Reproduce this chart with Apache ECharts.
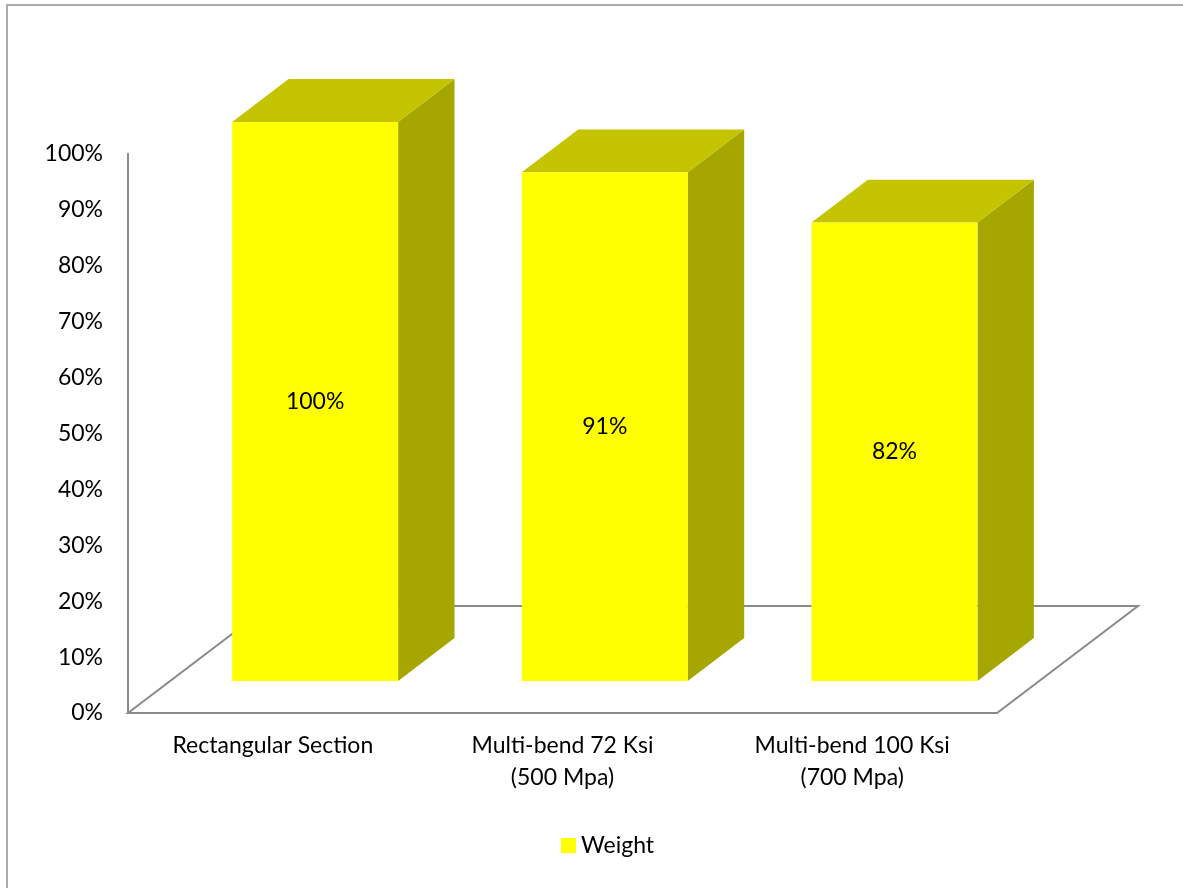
<!DOCTYPE html>
<html>
<head>
<meta charset="utf-8">
<title>Weight</title>
<script src="https://cdn.jsdelivr.net/npm/echarts@6/dist/echarts.min.js"></script>
<style>
  html, body { margin: 0; padding: 0; background: #fff; }
  #chart { width: 1183px; height: 888px; }
</style>
</head>
<body>
<div id="chart"></div>
<script>
// Chart data
const categories = ['Rectangular Section', 'Multi-bend 72 Ksi\n(500 Mpa)', 'Multi-bend 100 Ksi\n(700 Mpa)'];
const weightValues = [100, 91, 82];
const seriesName = 'Weight';

// Oblique 3D look: full floor depth vector in pixels, bar placement inside it
const DEPTH_X = 141;
const DEPTH_Y = -107;
const BAR_FRONT = 0.3;   // fraction of depth where the bar's front face sits
const BAR_DEPTH = 0.4;   // fraction of depth taken by the bar
const BAR_WIDTH = 0.573; // fraction of the category band
const FONT = 'Lato, "Open Sans", sans-serif';
const FONT_SIZE = 23;
const AXIS_GRAY = '#8a8a8a';

const chart = echarts.init(document.getElementById('chart'), null, { renderer: 'canvas' });

function renderFloor(params, api) {
  const cs = params.coordSys;
  const x0 = cs.x, x1 = cs.x + cs.width, y0 = cs.y + cs.height;
  return {
    type: 'polygon',
    shape: { points: [[x0, y0], [x1, y0], [x1 + DEPTH_X, y0 + DEPTH_Y], [x0 + DEPTH_X, y0 + DEPTH_Y]] },
    style: { fill: 'none', stroke: AXIS_GRAY, lineWidth: 2 },
    silent: true
  };
}

function renderBar(params, api) {
  const i = api.value(0);
  const v = api.value(1);
  const band = api.size([1, 0])[0];
  const base = api.coord([i, 0]);
  const top = api.coord([i, v]);
  const w = band * BAR_WIDTH;
  const fx = DEPTH_X * BAR_FRONT, fy = DEPTH_Y * BAR_FRONT;
  const bx = DEPTH_X * BAR_DEPTH, by = DEPTH_Y * BAR_DEPTH;
  const x0 = base[0] + fx - w / 2;
  const x1 = x0 + w;
  const yb = base[1] + fy;
  const yt = top[1] + fy;
  return {
    type: 'group',
    children: [
      {
        type: 'polygon',
        shape: { points: [[x1, yb], [x1, yt], [x1 + bx, yt + by], [x1 + bx, yb + by]] },
        style: { fill: '#a6a600' }
      },
      {
        type: 'polygon',
        shape: { points: [[x0, yt], [x1, yt], [x1 + bx, yt + by], [x0 + bx, yt + by]] },
        style: { fill: '#c4c400' }
      },
      {
        type: 'rect',
        shape: { x: x0, y: yt, width: w, height: yb - yt },
        style: { fill: '#ffff00' }
      },
      {
        type: 'text',
        x: x0 + w / 2,
        y: (yt + yb) / 2,
        style: {
          text: v + '%',
          fill: '#000',
          font: FONT_SIZE + 'px ' + FONT,
          align: 'center',
          verticalAlign: 'middle'
        }
      }
    ]
  };
}

chart.setOption({
  animation: false,
  backgroundColor: '#fff',
  graphic: [{
    type: 'rect',
    shape: { x: 7, y: 5, width: 1200, height: 900 },
    style: { fill: 'none', stroke: '#909090', lineWidth: 1.5 },
    silent: true
  }],
  grid: { left: 128, right: 186, top: 154, bottom: 175, containLabel: false },
  legend: {
    data: [seriesName],
    left: 556,
    top: 829,
    icon: 'rect',
    itemWidth: 15,
    itemHeight: 15,
    itemGap: 8,
    textStyle: { fontFamily: FONT, fontSize: FONT_SIZE, color: '#000' }
  },
  xAxis: {
    type: 'category',
    data: categories,
    axisLine: { show: true, lineStyle: { color: AXIS_GRAY, width: 2 } },
    axisTick: { show: false },
    splitLine: { show: false },
    axisLabel: {
      interval: 0,
      margin: 17,
      fontFamily: FONT,
      fontSize: FONT_SIZE,
      lineHeight: 32,
      color: '#000'
    }
  },
  yAxis: {
    type: 'value',
    min: 0,
    max: 100,
    interval: 10,
    axisLine: { show: true, lineStyle: { color: AXIS_GRAY, width: 2 } },
    axisTick: { show: false },
    splitLine: { show: false },
    axisLabel: {
      margin: 25,
      formatter: '{value}%',
      fontFamily: FONT,
      fontSize: FONT_SIZE,
      color: '#000'
    }
  },
  series: [
    {
      type: 'custom',
      name: 'floor',
      renderItem: renderFloor,
      data: [[0, 0]],
      z: 1,
      silent: true
    },
    {
      type: 'custom',
      name: seriesName,
      renderItem: renderBar,
      itemStyle: { color: '#ffff00' },
      encode: { x: 0, y: 1 },
      data: weightValues.map((v, i) => [i, v]),
      z: 2
    }
  ]
});
</script>
</body>
</html>
